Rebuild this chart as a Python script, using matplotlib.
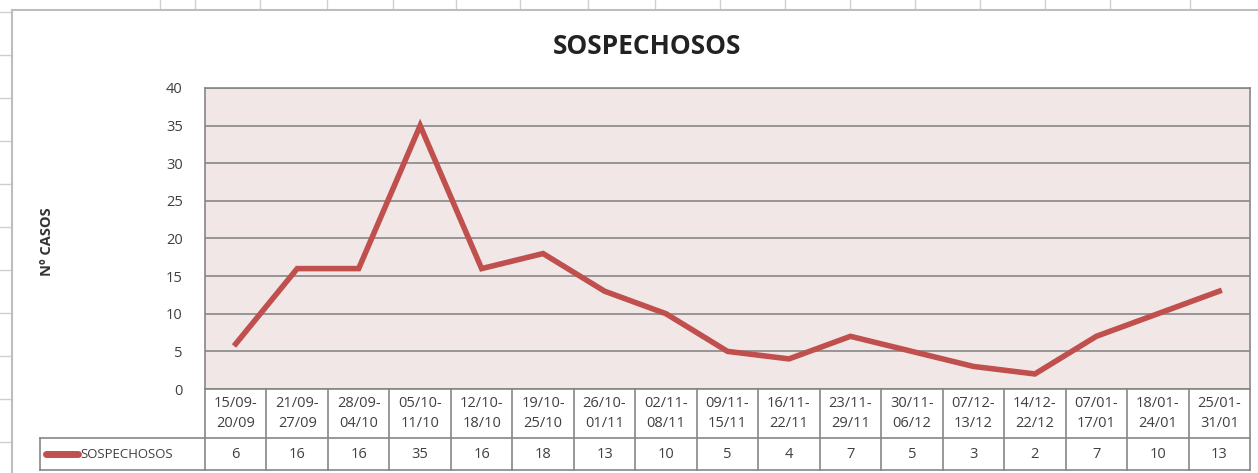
import matplotlib
matplotlib.use("Agg")
import matplotlib.pyplot as plt
from matplotlib.lines import Line2D

plt.rcParams['font.family'] = ['Open Sans', 'DejaVu Sans']

semanas_ini = ["15/09", "21/09", "28/09", "05/10", "12/10", "19/10", "26/10", "02/11", "09/11",
               "16/11", "23/11", "30/11", "07/12", "14/12", "07/01", "18/01", "25/01"]
semanas_fin = ["20/09", "27/09", "04/10", "11/10", "18/10", "25/10", "01/11", "08/11", "15/11",
               "22/11", "29/11", "06/12", "13/12", "22/12", "17/01", "24/01", "31/01"]
sospechosos = [6, 16, 16, 35, 16, 18, 13, 10, 5, 4, 7, 5, 3, 2, 7, 10, 13]

rojo = "#C0504D"
gris = "#868686"
texto = "#404040"
n = len(sospechosos)

fig = plt.figure(figsize=(12.58, 4.73), dpi=100)
W, H = 1258, 473

# restos de la hoja de excel
for y in [12, 55, 98, 141, 184, 227, 270, 313, 356, 399, 442]:
    fig.add_artist(Line2D([0, 10 / W], [1 - y / H] * 2, color="#d0d0d0", lw=1))
for x in [160, 195, 260, 327, 393, 456, 520, 588, 655, 720, 785, 850, 915, 980, 1045, 1110, 1190]:
    fig.add_artist(Line2D([x / W] * 2, [1, 1 - 9 / H], color="#d0d0d0", lw=1))
fig.add_artist(Line2D([12 / W] * 2, [0, 1 - 10 / H], color="#bdbdbd", lw=1.5))
fig.add_artist(Line2D([12 / W, 1], [1 - 10 / H] * 2, color="#bdbdbd", lw=1.5))

ax = fig.add_axes([205 / W, 1 - 389 / H, 1045 / W, 301 / H])
ax.set_facecolor("#F2E7E7")
x = [i + 0.5 for i in range(n)]
ax.plot(x, sospechosos, color=rojo, lw=4, solid_joinstyle="miter")
ax.set_xlim(0, n)
ax.set_ylim(0, 40)
ax.set_yticks(range(0, 41, 5))
ax.yaxis.grid(True, color=gris, lw=1.2)
ax.set_axisbelow(True)
ax.set_xticks([])
ax.tick_params(axis="y", length=0, pad=16, labelsize=10.5, labelcolor=texto)
for s in ax.spines.values():
    s.set_color(gris)
    s.set_linewidth(1.2)

# tabla de datos
y1 = -49 / 301
y2 = -81 / 301
xl = -165 / 1045 * n
tr = ax.get_xaxis_transform()
for i in range(n + 1):
    ax.plot([i, i], [0, y2], color=gris, lw=1.2, clip_on=False, transform=tr)
ax.plot([xl, n], [y1, y1], color=gris, lw=1.2, clip_on=False, transform=tr)
ax.plot([xl, n], [y2, y2], color=gris, lw=1.2, clip_on=False, transform=tr)
ax.plot([xl, xl], [y1, y2], color=gris, lw=1.2, clip_on=False, transform=tr)
for i in range(n):
    ax.text(i + 0.5, y1 / 2, semanas_ini[i] + "-\n" + semanas_fin[i], transform=tr,
            ha="center", va="center", fontsize=10.5, color=texto, linespacing=1.45)
    ax.text(i + 0.5, (y1 + y2) / 2, str(sospechosos[i]), transform=tr,
            ha="center", va="center", fontsize=10.5, color=texto)
ax.plot([xl + 0.1, xl + 0.62], [(y1 + y2) / 2] * 2, color=rojo, lw=5,
        solid_capstyle="round", clip_on=False, transform=tr)
ax.text(xl + 0.66, (y1 + y2) / 2, "SOSPECHOSOS", transform=tr, ha="left", va="center",
        fontsize=9.5, color=texto)

fig.text(647 / W, 1 - 47 / H, "SOSPECHOSOS", ha="center", va="center",
         fontsize=19, fontweight="bold", color="#222222")
fig.text(47 / W, 1 - 242 / H, "Nº CASOS", ha="center", va="center", rotation=90,
         fontsize=10.5, fontweight="bold", color="#333333")

fig.savefig("out.png", dpi=100)
